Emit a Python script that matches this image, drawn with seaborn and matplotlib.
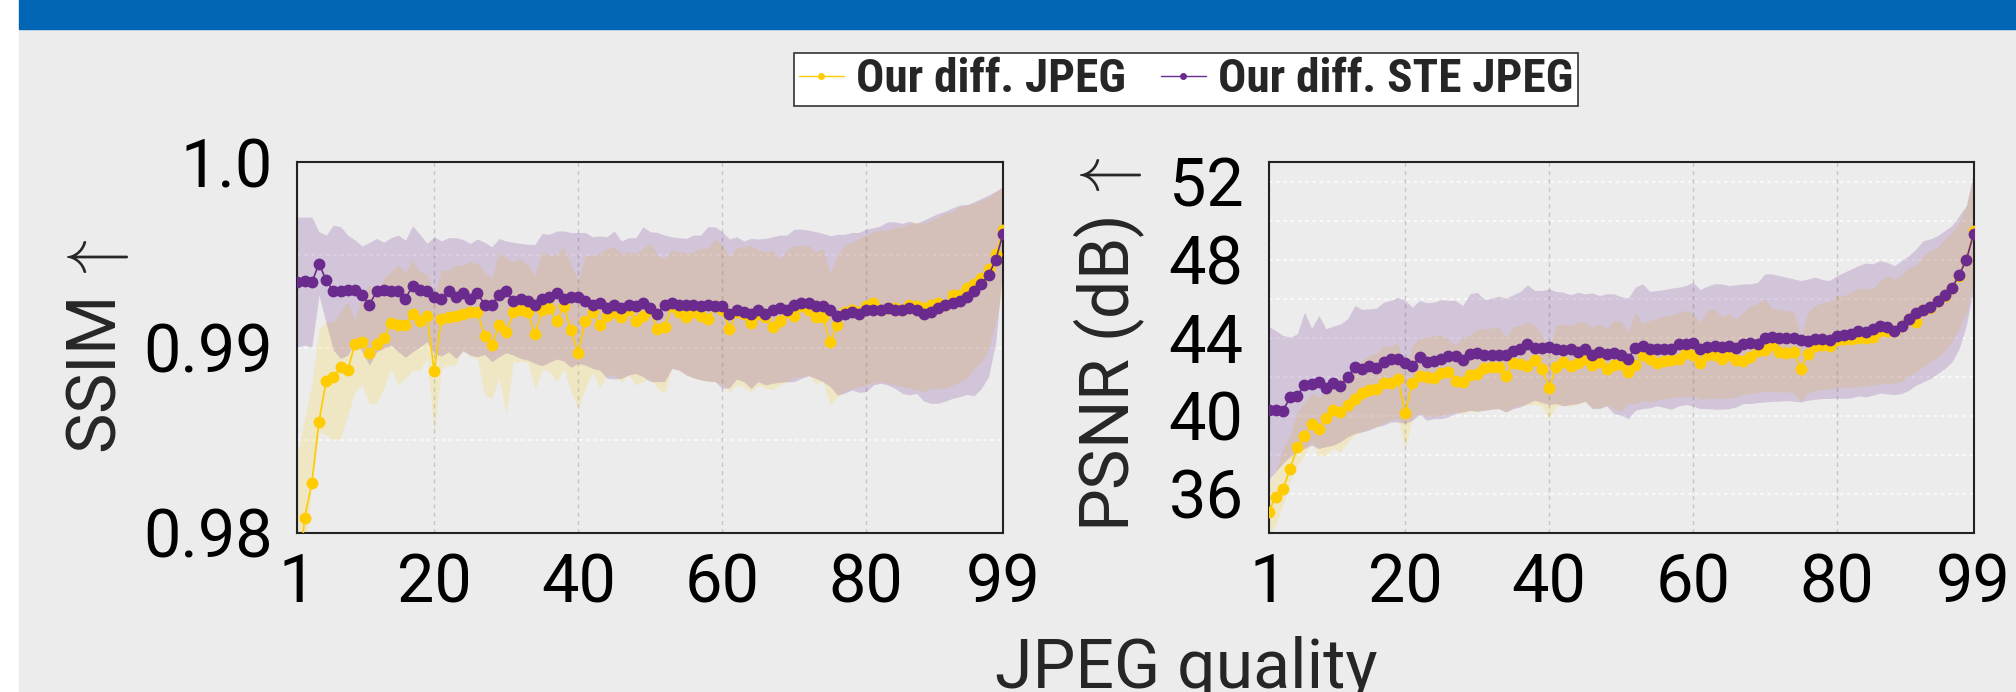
import pandas as pd
import seaborn as sns
import matplotlib.pyplot as plt
from matplotlib.patches import Rectangle
from matplotlib.lines import Line2D
from matplotlib.font_manager import FontProperties, fontManager

# JPEG quality 1..99
quality = list(range(1, 100))

# SSIM, mean and band (lower / upper) per quality
ssim_jpeg = [0.97650, 0.98081, 0.98269, 0.98600, 0.98821, 0.98843, 0.98893, 0.98878, 0.99020, 0.99031,
             0.98972, 0.99020, 0.99051, 0.99132, 0.99121, 0.99121, 0.99182, 0.99143, 0.99171, 0.98871,
             0.99152, 0.99162, 0.99171, 0.99182, 0.99191, 0.99191, 0.99062, 0.99011, 0.99121, 0.99081,
             0.99191, 0.99202, 0.99191, 0.99071, 0.99202, 0.99211, 0.99143, 0.99222, 0.99092, 0.98972,
             0.99143, 0.99191, 0.99121, 0.99171, 0.99191, 0.99162, 0.99202, 0.99143, 0.99171, 0.99202,
             0.99101, 0.99112, 0.99222, 0.99191, 0.99162, 0.99191, 0.99171, 0.99152, 0.99222, 0.99202,
             0.99101, 0.99191, 0.99180, 0.99132, 0.99180, 0.99162, 0.99112, 0.99143, 0.99191, 0.99171,
             0.99222, 0.99202, 0.99162, 0.99162, 0.99031, 0.99121, 0.99191, 0.99202, 0.99191, 0.99222,
             0.99241, 0.99202, 0.99211, 0.99211, 0.99202, 0.99231, 0.99222, 0.99211, 0.99231, 0.99241,
             0.99231, 0.99283, 0.99283, 0.99322, 0.99342, 0.99372, 0.99423, 0.99504, 0.99633]
ssim_jpeg_lo = [0.97702, 0.97881, 0.98241, 0.98546, 0.98528, 0.98501, 0.98510, 0.98636, 0.98762, 0.98798,
                0.98699, 0.98699, 0.98780, 0.98887, 0.98798, 0.98834, 0.98878, 0.98878, 0.98941, 0.98546,
                0.98887, 0.98905, 0.98905, 0.98995, 0.98950, 0.98941, 0.98744, 0.98726, 0.98834, 0.98645,
                0.98923, 0.98923, 0.98923, 0.98771, 0.98887, 0.98870, 0.98816, 0.98887, 0.98762, 0.98672,
                0.98780, 0.98870, 0.98780, 0.98852, 0.98852, 0.98816, 0.98852, 0.98798, 0.98816, 0.98834,
                0.98780, 0.98753, 0.98887, 0.98878, 0.98852, 0.98837, 0.98825, 0.98819, 0.98816, 0.98798,
                0.98762, 0.98798, 0.98789, 0.98762, 0.98798, 0.98780, 0.98771, 0.98798, 0.98816, 0.98837,
                0.98843, 0.98852, 0.98807, 0.98816, 0.98690, 0.98735, 0.98762, 0.98780, 0.98789, 0.98798,
                0.98807, 0.98816, 0.98807, 0.98798, 0.98789, 0.98780, 0.98771, 0.98762, 0.98780, 0.98780,
                0.98780, 0.98798, 0.98816, 0.98834, 0.98887, 0.98923, 0.98995, 0.99139, 0.99319]
ssim_jpeg_hi = [0.98420, 0.98618, 0.98798, 0.99100, 0.99139, 0.99139, 0.99193, 0.99247, 0.99148, 0.99283,
                0.99337, 0.99283, 0.99373, 0.99408, 0.99444, 0.99408, 0.99471, 0.99408, 0.99399, 0.99283,
                0.99417, 0.99417, 0.99444, 0.99444, 0.99462, 0.99453, 0.99408, 0.99373, 0.99516, 0.99480,
                0.99462, 0.99480, 0.99444, 0.99390, 0.99516, 0.99498, 0.99498, 0.99543, 0.99444, 0.99364,
                0.99498, 0.99498, 0.99507, 0.99534, 0.99543, 0.99507, 0.99516, 0.99507, 0.99534, 0.99561,
                0.99498, 0.99480, 0.99525, 0.99516, 0.99507, 0.99516, 0.99534, 0.99534, 0.99588, 0.99552,
                0.99484, 0.99538, 0.99543, 0.99552, 0.99525, 0.99516, 0.99525, 0.99480, 0.99525, 0.99549,
                0.99552, 0.99552, 0.99516, 0.99534, 0.99399, 0.99498, 0.99552, 0.99567, 0.99588, 0.99606,
                0.99624, 0.99633, 0.99633, 0.99646, 0.99651, 0.99664, 0.99678, 0.99669, 0.99687, 0.99705,
                0.99723, 0.99732, 0.99759, 0.99768, 0.99777, 0.99795, 0.99813, 0.99840, 0.99867]
ssim_ste = [0.99353, 0.99358, 0.99351, 0.99452, 0.99362, 0.99302, 0.99302, 0.99311, 0.99311, 0.99283,
            0.99231, 0.99302, 0.99311, 0.99302, 0.99302, 0.99263, 0.99333, 0.99311, 0.99302, 0.99272,
            0.99263, 0.99302, 0.99272, 0.99293, 0.99263, 0.99293, 0.99231, 0.99231, 0.99283, 0.99302,
            0.99252, 0.99263, 0.99252, 0.99231, 0.99263, 0.99272, 0.99293, 0.99263, 0.99272, 0.99272,
            0.99252, 0.99231, 0.99241, 0.99211, 0.99231, 0.99211, 0.99231, 0.99222, 0.99241, 0.99211,
            0.99180, 0.99231, 0.99241, 0.99231, 0.99231, 0.99231, 0.99222, 0.99231, 0.99222, 0.99222,
            0.99180, 0.99202, 0.99191, 0.99180, 0.99202, 0.99180, 0.99202, 0.99211, 0.99202, 0.99231,
            0.99241, 0.99241, 0.99222, 0.99222, 0.99202, 0.99171, 0.99180, 0.99191, 0.99180, 0.99202,
            0.99202, 0.99202, 0.99211, 0.99202, 0.99202, 0.99211, 0.99202, 0.99180, 0.99191, 0.99211,
            0.99231, 0.99241, 0.99252, 0.99272, 0.99302, 0.99342, 0.99392, 0.99473, 0.99613]
ssim_ste_lo = [0.99002, 0.99013, 0.99002, 0.99283, 0.99130, 0.98986, 0.98941, 0.98959, 0.99031, 0.98977,
               0.98905, 0.98977, 0.98995, 0.99013, 0.98977, 0.98947, 0.98977, 0.99002, 0.99031, 0.98967,
               0.98954, 0.98977, 0.98941, 0.98981, 0.98959, 0.98950, 0.98963, 0.98923, 0.98950, 0.98972,
               0.98959, 0.98941, 0.98932, 0.98914, 0.98902, 0.98920, 0.98938, 0.98927, 0.98893, 0.98914,
               0.98905, 0.98887, 0.98878, 0.98834, 0.98830, 0.98834, 0.98852, 0.98860, 0.98843, 0.98816,
               0.98816, 0.98816, 0.98887, 0.98878, 0.98852, 0.98837, 0.98825, 0.98819, 0.98816, 0.98780,
               0.98783, 0.98830, 0.98816, 0.98780, 0.98816, 0.98798, 0.98807, 0.98812, 0.98816, 0.98816,
               0.98834, 0.98848, 0.98834, 0.98816, 0.98789, 0.98744, 0.98753, 0.98771, 0.98758, 0.98762,
               0.98798, 0.98807, 0.98798, 0.98780, 0.98753, 0.98744, 0.98753, 0.98711, 0.98699, 0.98699,
               0.98711, 0.98726, 0.98735, 0.98747, 0.98740, 0.98780, 0.98843, 0.99031, 0.99444]
ssim_ste_hi = [0.99703, 0.99703, 0.99703, 0.99624, 0.99606, 0.99660, 0.99651, 0.99606, 0.99579, 0.99547,
               0.99567, 0.99588, 0.99567, 0.99592, 0.99606, 0.99579, 0.99656, 0.99610, 0.99561, 0.99597,
               0.99574, 0.99592, 0.99592, 0.99583, 0.99561, 0.99585, 0.99567, 0.99543, 0.99588, 0.99574,
               0.99567, 0.99561, 0.99556, 0.99556, 0.99615, 0.99610, 0.99628, 0.99628, 0.99620, 0.99620,
               0.99620, 0.99597, 0.99602, 0.99597, 0.99628, 0.99574, 0.99592, 0.99592, 0.99651, 0.99624,
               0.99620, 0.99606, 0.99597, 0.99592, 0.99588, 0.99606, 0.99606, 0.99651, 0.99651, 0.99624,
               0.99585, 0.99597, 0.99574, 0.99588, 0.99585, 0.99588, 0.99597, 0.99606, 0.99606, 0.99638,
               0.99638, 0.99633, 0.99624, 0.99615, 0.99602, 0.99610, 0.99610, 0.99620, 0.99620, 0.99638,
               0.99646, 0.99656, 0.99678, 0.99678, 0.99669, 0.99681, 0.99669, 0.99687, 0.99705, 0.99723,
               0.99735, 0.99753, 0.99768, 0.99771, 0.99786, 0.99804, 0.99822, 0.99843, 0.99867]

# PSNR (dB), mean and band per quality
psnr_jpeg = [35.10, 35.83, 36.24, 37.26, 38.42, 38.96, 39.59, 39.32, 39.91, 40.29,
             40.19, 40.56, 40.85, 41.19, 41.33, 41.40, 41.70, 41.70, 41.87, 40.15,
             41.70, 42.04, 41.99, 41.94, 42.21, 42.25, 41.79, 41.74, 42.11, 42.16,
             42.47, 42.50, 42.49, 42.03, 42.72, 42.64, 42.55, 42.84, 42.42, 41.43,
             42.50, 42.76, 42.55, 42.72, 42.89, 42.59, 42.76, 42.42, 42.59, 42.67,
             42.25, 42.59, 43.13, 42.89, 42.72, 42.79, 42.84, 42.93, 43.23, 43.13,
             42.72, 43.10, 43.13, 42.89, 43.13, 42.88, 42.79, 43.01, 43.30, 43.35,
             43.64, 43.27, 43.23, 43.27, 42.42, 43.18, 43.57, 43.61, 43.57, 43.86,
             43.95, 43.95, 43.98, 43.98, 44.03, 44.37, 44.37, 44.37, 44.60, 44.94,
             44.80, 45.40, 45.52, 45.86, 46.13, 46.54, 47.18, 47.98, 49.48]
psnr_jpeg_lo = [33.90, 34.42, 35.44, 36.63, 37.48, 37.99, 38.67, 37.91, 37.99, 38.33,
                38.16, 38.67, 39.01, 39.18, 39.35, 39.44, 39.61, 39.78, 39.86, 38.33,
                39.86, 40.12, 40.00, 39.95, 40.03, 40.12, 40.20, 40.12, 40.24, 40.20,
                40.29, 40.34, 40.37, 40.20, 40.46, 40.51, 40.58, 40.58, 40.51, 39.86,
                40.51, 40.54, 40.51, 40.58, 40.71, 40.46, 40.41, 40.54, 40.37, 40.25,
                40.63, 40.63, 40.80, 40.71, 40.80, 40.89, 40.92, 40.97, 40.97, 41.02,
                40.85, 40.89, 40.89, 40.92, 40.89, 40.97, 41.09, 41.14, 41.19, 41.26,
                41.26, 41.23, 41.23, 41.19, 40.71, 41.19, 41.29, 41.36, 41.40, 41.46,
                41.46, 41.48, 41.50, 41.53, 41.57, 41.65, 41.65, 41.65, 41.77, 42.04,
                42.25, 42.50, 42.76, 43.01, 43.35, 43.78, 44.46, 45.31, 46.84]
psnr_jpeg_hi = [36.46, 37.14, 38.33, 39.01, 40.20, 40.71, 41.14, 40.97, 41.40, 41.74,
                41.91, 41.99, 42.42, 42.84, 43.10, 43.18, 43.61, 43.52, 43.78, 42.08,
                43.61, 43.98, 44.03, 44.12, 44.15, 43.95, 43.61, 44.03, 44.12, 44.46,
                44.46, 44.49, 44.54, 44.03, 44.54, 44.63, 44.80, 44.63, 44.12, 43.52,
                44.63, 44.71, 44.63, 44.80, 44.80, 44.54, 44.71, 44.46, 44.89, 44.85,
                44.29, 45.31, 44.71, 44.89, 44.97, 45.14, 45.14, 45.31, 45.40, 45.23,
                44.80, 45.40, 45.48, 45.06, 45.23, 44.97, 45.31, 45.65, 45.74, 45.99,
                45.48, 45.45, 45.40, 45.31, 44.12, 45.31, 45.65, 45.82, 45.82, 46.20,
                46.16, 46.33, 46.54, 46.54, 46.50, 46.93, 47.18, 47.01, 47.18, 47.61,
                47.69, 48.20, 48.46, 48.63, 49.06, 49.40, 49.91, 50.76, 52.12]
psnr_ste = [40.32, 40.32, 40.26, 40.94, 41.02, 41.57, 41.63, 41.75, 41.45, 41.70,
            41.53, 42.01, 42.49, 42.42, 42.54, 42.45, 42.76, 42.89, 42.93, 42.72,
            42.55, 43.03, 42.76, 42.79, 42.93, 43.05, 43.06, 42.84, 43.18, 43.23,
            43.10, 43.13, 43.10, 43.10, 43.34, 43.44, 43.69, 43.47, 43.47, 43.51,
            43.44, 43.35, 43.40, 43.27, 43.44, 43.10, 43.27, 43.15, 43.23, 43.10,
            42.93, 43.49, 43.57, 43.44, 43.44, 43.44, 43.44, 43.66, 43.66, 43.73,
            43.44, 43.52, 43.57, 43.52, 43.57, 43.49, 43.66, 43.74, 43.69, 44.00,
            44.03, 44.00, 44.00, 44.00, 43.86, 43.81, 43.95, 43.95, 43.90, 44.07,
            44.12, 44.20, 44.34, 44.29, 44.43, 44.58, 44.54, 44.37, 44.60, 44.97,
            45.28, 45.43, 45.57, 45.87, 46.20, 46.54, 47.22, 47.98, 49.31]
psnr_ste_lo = [36.71, 37.14, 37.57, 37.91, 38.16, 38.33, 38.50, 38.33, 38.42, 38.50,
               38.67, 38.93, 39.10, 39.18, 39.27, 39.44, 39.52, 39.69, 39.69, 39.61,
               39.78, 40.07, 39.78, 39.86, 39.86, 39.95, 40.12, 40.20, 40.29, 40.24,
               40.29, 40.34, 40.37, 40.20, 40.37, 40.46, 40.63, 40.80, 40.68, 40.58,
               40.63, 40.51, 40.58, 40.63, 40.75, 40.37, 40.37, 40.51, 40.12, 40.03,
               39.86, 40.29, 40.37, 40.41, 40.51, 40.43, 40.34, 40.51, 40.58, 40.51,
               40.37, 40.37, 40.34, 40.34, 40.37, 40.46, 40.63, 40.63, 40.68, 40.71,
               40.75, 40.75, 40.78, 40.75, 40.71, 40.80, 40.85, 40.89, 40.89, 40.92,
               40.89, 40.92, 41.02, 40.97, 41.06, 41.17, 41.12, 41.09, 41.14, 41.31,
               41.57, 41.74, 41.91, 42.16, 42.42, 42.76, 43.44, 44.63, 46.50]
psnr_ste_hi = [44.58, 44.37, 44.12, 44.03, 44.20, 45.31, 44.49, 45.14, 44.46, 44.60,
               44.71, 44.97, 45.65, 45.45, 45.48, 45.51, 45.82, 45.91, 46.08, 45.91,
               45.57, 45.91, 45.79, 45.82, 45.96, 45.91, 45.91, 45.65, 46.25, 46.33,
               45.96, 46.03, 46.13, 46.03, 46.20, 46.37, 46.71, 46.42, 46.42, 46.50,
               46.37, 46.33, 46.20, 46.33, 46.25, 46.30, 46.16, 46.25, 46.25, 46.10,
               46.03, 46.59, 46.76, 46.37, 46.42, 46.47, 46.54, 46.59, 46.67, 46.84,
               46.47, 46.64, 46.76, 46.76, 46.67, 46.71, 46.76, 46.76, 46.84, 47.27,
               47.27, 47.18, 47.10, 47.01, 46.93, 47.01, 47.10, 46.98, 46.93, 47.18,
               47.35, 47.52, 47.69, 47.83, 47.78, 47.95, 47.86, 47.69, 47.95, 48.20,
               48.54, 48.97, 49.06, 49.23, 49.48, 49.74, 50.25, 50.76, 52.46]

methods = ["Our diff. JPEG", "Our diff. STE JPEG"]
x_ticks = [1, 20, 40, 60, 80, 99]
ssim_ticks = [0.98, 0.985, 0.99, 0.995, 1.0]
ssim_tick_labels = ["0.98", "", "0.99", "", "1.0"]
psnr_ticks = [34, 36, 38, 40, 42, 44, 46, 48, 50, 52]
psnr_tick_labels = ["", "36", "", "40", "", "44", "", "48", "", "52"]

YELLOW = "#ffcc00"
PURPLE = "#6a2a8e"
BG = "#ececec"
W, H = 2016, 692

sns.set_theme(style="white")
plt.rcParams["font.family"] = ["Roboto", "DejaVu Sans"]
plt.rcParams["mathtext.fontset"] = "cm"

fig = plt.figure(figsize=(W / 100, H / 100), dpi=100, facecolor="white")
# grey page with a blue bar on top, white strip on the left
fig.add_artist(Rectangle((19 / W, 0), 1 - 19 / W, (H - 29) / H, transform=fig.transFigure,
                         color=BG, zorder=-10))
fig.add_artist(Rectangle((19 / W, (H - 29) / H), 1 - 19 / W, 29 / H, transform=fig.transFigure,
                         color="#0066b3", zorder=-10))


def draw_panel(ax, jpeg, jpeg_lo, jpeg_hi, ste, ste_lo, ste_hi, ylim, yticks, ylabels, ylabel, label_x):
    ax.set_facecolor(BG)
    ax.fill_between(quality, jpeg_lo, jpeg_hi, color=YELLOW, alpha=0.17, lw=0, zorder=1)
    ax.fill_between(quality, ste_lo, ste_hi, color=PURPLE, alpha=0.2, lw=0, zorder=1.1)

    df = pd.DataFrame({
        "quality": quality + quality,
        "value": jpeg + ste,
        "method": [methods[0]] * len(quality) + [methods[1]] * len(quality),
    })
    sns.lineplot(data=df, x="quality", y="value", hue="method", hue_order=methods,
                 palette=[YELLOW, PURPLE], marker="o", markersize=8.5, markeredgewidth=0,
                 linewidth=1.2, errorbar=None, legend=False, ax=ax, zorder=3)

    ax.set_xlim(1, 99)
    ax.set_ylim(*ylim)
    ax.set_xticks(x_ticks)
    ax.set_yticks(yticks)
    ax.set_yticklabels(ylabels)
    ax.set_xlabel("")
    ax.set_ylabel(ylabel, fontsize=49)
    ax.yaxis.set_label_coords(label_x, 0.5)
    ax.set_axisbelow(True)
    ax.grid(axis="x", color="#c4c4c4", linestyle=(0, (3, 3)), lw=1)
    ax.grid(axis="y", color="#fafafa", linestyle=(0, (2, 2)), lw=1.3)
    ax.tick_params(axis="both", direction="in", length=8.5, width=1, color="#777777",
                   labelsize=48, labelcolor="black")
    ax.tick_params(axis="x", pad=14)
    ax.tick_params(axis="y", pad=18)
    for sp in ax.spines.values():
        sp.set_color("#222222")
        sp.set_linewidth(1.5)
        sp.set_visible(True)


ax1 = fig.add_axes([297.4 / W, (H - 533) / H, 705.6 / W, 371 / H])
ax2 = fig.add_axes([1268.5 / W, (H - 533) / H, 705 / W, 371 / H])

draw_panel(ax1, ssim_jpeg, ssim_jpeg_lo, ssim_jpeg_hi, ssim_ste, ssim_ste_lo, ssim_ste_hi,
           (0.98, 1.0), ssim_ticks, ssim_tick_labels, r"SSIM$\,\uparrow$", -0.236)
draw_panel(ax2, psnr_jpeg, psnr_jpeg_lo, psnr_jpeg_hi, psnr_ste, psnr_ste_lo, psnr_ste_hi,
           (34, 53), psnr_ticks, psnr_tick_labels, r"PSNR (dB)$\,\uparrow$", -0.172)

fig.text(1186 / W, 4 / H, "JPEG quality", ha="center", va="baseline", fontsize=49)

# legend on top, condensed bold face
names = {f.name for f in fontManager.ttflist}
narrow = [n for n in ["Liberation Sans Narrow", "Roboto Condensed", "Arial Narrow"] if n in names]
if narrow:
    leg_font = FontProperties(family=narrow[0], weight="bold", size=34)
else:
    leg_font = FontProperties(family="DejaVu Sans", stretch="condensed", weight="bold", size=29)

handles = [Line2D([0], [0], color=YELLOW, marker="o", ms=5, mew=0, lw=1),
           Line2D([0], [0], color=PURPLE, marker="o", ms=5, mew=0, lw=1)]
leg = fig.legend(handles, methods, loc="center", bbox_to_anchor=(1186 / W, 1 - 79.5 / H), ncol=2,
                 frameon=True, fancybox=False, framealpha=1, facecolor="white", edgecolor="#333333",
                 prop=leg_font, handlelength=0.95, handletextpad=0.25, columnspacing=0.75,
                 borderpad=0.1, borderaxespad=0)
leg.get_frame().set_linewidth(1.2)

# centre each y label on the span it covers in the reference (pixel rows from top)
fig.canvas.draw()
for ax, (top, bottom) in [(ax1, (243, 450)), (ax2, (162, 528))]:
    lab = ax.yaxis.label
    bb = lab.get_window_extent()
    want = H - (top + bottom) / 2
    lx, ly = lab.get_position()
    ax.yaxis.set_label_coords(lx, ly + (want - (bb.y0 + bb.y1) / 2) / (371))

fig.savefig("out.png", dpi=100, facecolor=fig.get_facecolor())
